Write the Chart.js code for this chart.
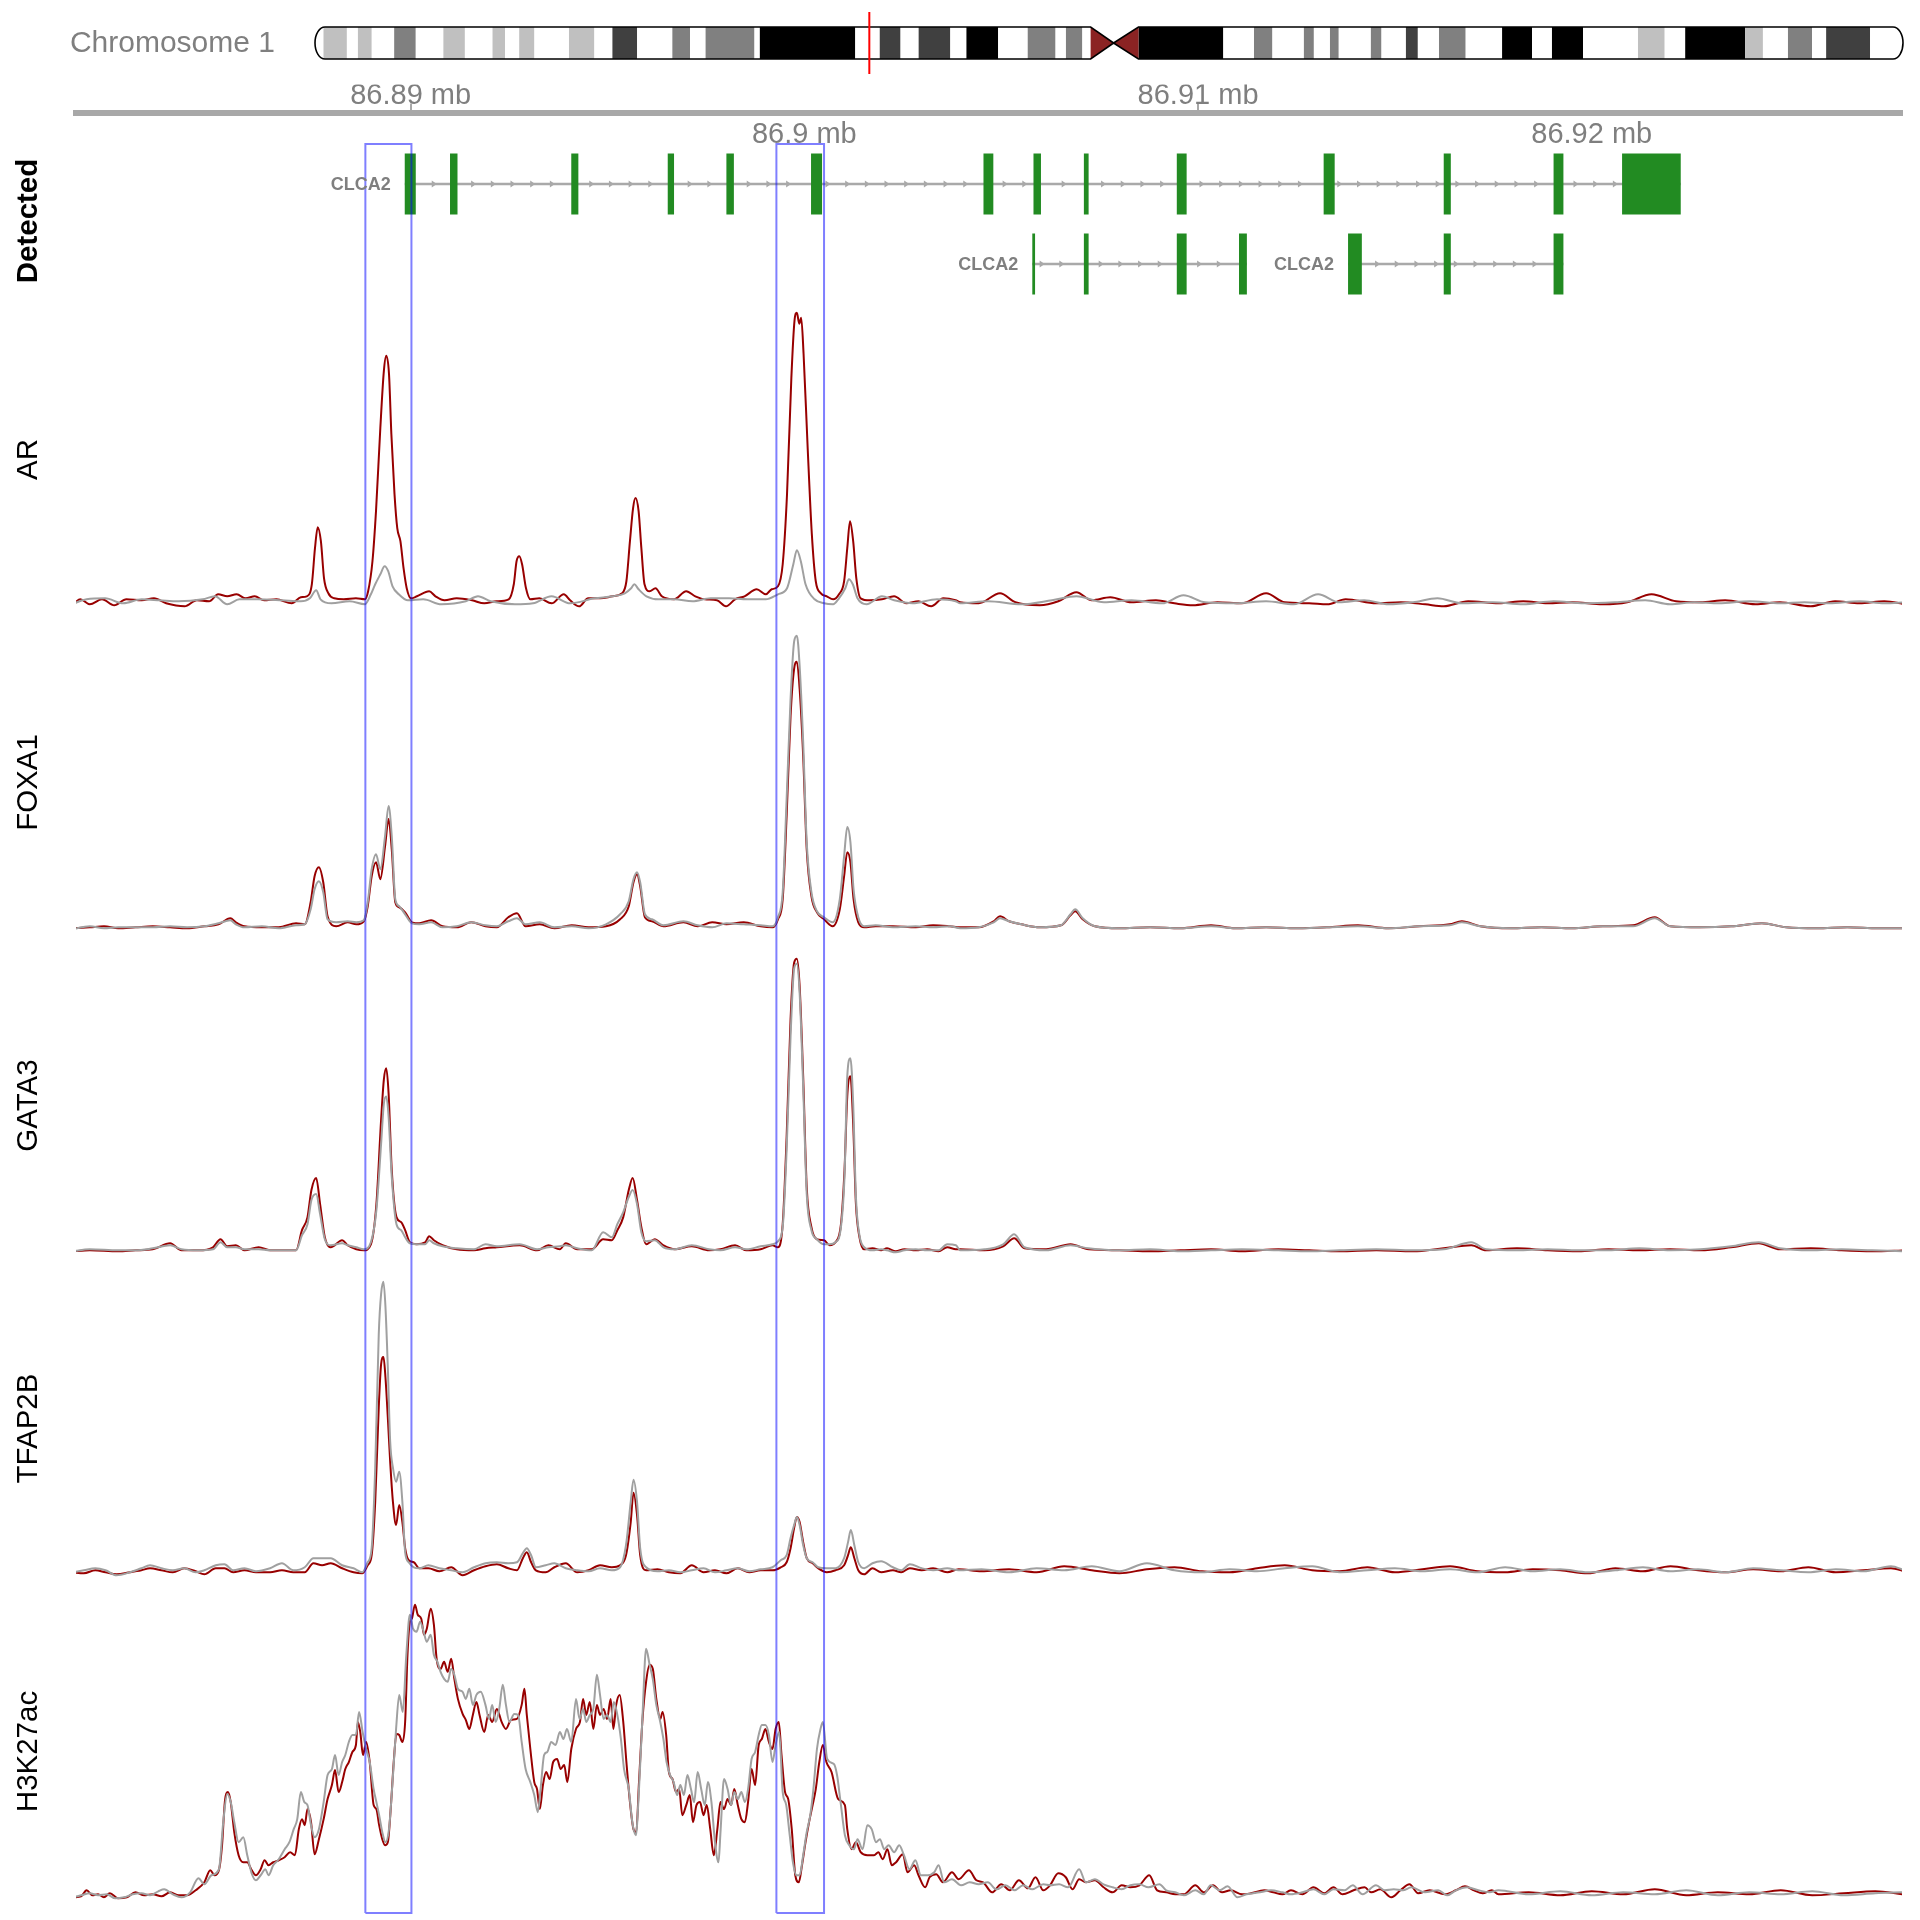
<!DOCTYPE html>
<html>
<head>
<meta charset="utf-8">
<title>CLCA2 locus tracks</title>
<script src="https://cdn.jsdelivr.net/npm/chart.js@4.4.1/dist/chart.umd.min.js"></script>
<style>
  html, body { margin: 0; padding: 0; background: #ffffff; }
  #wrap { position: relative; width: 1920px; height: 1920px; overflow: hidden; }
  canvas { position: absolute; left: 0; }
  #ideo { top: 0; }
  #tracks { top: 70px; }
</style>
</head>
<body>
<div id="wrap">
  <canvas id="ideo" width="1920" height="84"></canvas>
  <canvas id="tracks" width="1920" height="1850"></canvas>
</div>
<script>
const FONT = '"Liberation Sans", Arial, Helvetica, sans-serif';

// ---- chromosome ideogram (Mb) ----
const chromName = 'Chromosome 1';
const chromLength = 248.96;
const regionMb = 86.9047;
const bandStart = [0, 1.3, 5.0, 6.7, 8.9, 12.4, 15.8, 20.1, 23.5, 27.8, 29.8, 32.0, 34.4, 39.8, 43.8, 46.6, 50.5, 56.0, 58.8, 61.2,
  68.9, 69.7, 84.7, 88.5, 91.8, 94.6, 99.6, 102.1, 107.1, 111.7, 116.1, 117.7, 120.3, 121.6, 125.2, 129.1, 142.4, 147.2, 150.1, 155.0,
  156.6, 159.1, 160.5, 165.5, 167.2, 171.0, 172.9, 176.2, 180.4, 186.1, 190.8, 193.9, 198.8, 207.4, 211.6, 214.8, 224.2, 227.0, 230.9, 234.7,
  236.9, 243.8];
const bandStain = ['gneg','gpos25','gneg','gpos25','gneg','gpos50','gneg','gpos25','gneg','gpos25','gneg','gpos25','gneg','gpos25','gneg','gpos75','gneg','gpos50','gneg','gpos50',
  'gneg','gpos100','gneg','gpos75','gneg','gpos75','gneg','gpos100','gneg','gpos50','gneg','gpos50','gneg','acen','acen','gvar','gneg','gpos50','gneg','gpos50',
  'gneg','gpos50','gneg','gpos50','gneg','gpos75','gneg','gpos50','gneg','gpos100','gneg','gpos100','gneg','gpos25','gneg','gpos100','gpos25','gneg','gpos50','gneg',
  'gpos75','gneg'];
const stainColor = { gneg: '#ffffff', gpos25: '#c0c0c0', gpos50: '#808080', gpos75: '#404040', gpos100: '#000000', gvar: '#000000' };

// ---- genome axis (kb) ----
const viewStart = 86881.5;
const viewEnd = 86927.88;
const axisTickKb = [86890, 86900, 86910, 86920];
const axisTickLabels = ['86.89 mb', '86.9 mb', '86.91 mb', '86.92 mb'];
const highlightStart = [86888.85, 86899.29];
const highlightEnd = [86890.02, 86900.50];

// ---- gene models ----
const txName = ['CLCA2', 'CLCA2', 'CLCA2'];
const txRow = [1, 3, 3];
const txExons = [
  [[86889.85, 86890.13], [86891.00, 86891.19], [86894.08, 86894.26], [86896.53, 86896.69], [86898.02, 86898.21], [86900.17, 86900.45],
   [86904.55, 86904.80], [86905.82, 86906.01], [86907.10, 86907.22], [86909.46, 86909.71], [86913.19, 86913.47], [86916.24, 86916.42],
   [86919.03, 86919.28], [86920.77, 86922.26]],
  [[86905.79, 86905.86], [86907.10, 86907.22], [86909.46, 86909.71], [86911.04, 86911.24]],
  [[86913.81, 86914.16], [86916.24, 86916.42], [86919.03, 86919.28]]
];

// ---- signal tracks ----
const trackNames = ['AR', 'FOXA1', 'GATA3', 'TFAP2B', 'H3K27ac'];

const arTreat = [[86881.38,0],[86881.61,7],[86881.85,2],[86882.16,7],[86882.47,1],[86882.78,7],[86883.17,6],[86883.48,8],[86883.79,3],[86884.26,0],
  [86884.57,6],[86884.88,5],[86885.11,12],[86885.34,10],[86885.58,12],[86885.81,8],[86886.04,10],[86886.28,6],[86886.59,7],[86886.98,3],
  [86887.21,9],[86887.36,10],[86887.49,22],[86887.57,58],[86887.64,79],[86887.72,65],[86887.80,28],[86887.91,13],[86888.06,8],[86888.30,7],
  [86888.61,8],[86888.84,7],[86888.92,15],[86889.03,45],[86889.12,95],[86889.23,178],[86889.32,235],[86889.38,250],[86889.45,232],[86889.51,172],
  [86889.59,112],[86889.66,78],[86889.74,65],[86889.82,38],[86889.90,18],[86890.01,8],[86890.16,10],[86890.47,15],[86890.63,10],[86890.86,6],
  [86891.17,8],[86891.56,6],[86891.87,3],[86892.18,5],[86892.49,7],[86892.62,22],[86892.69,45],[86892.76,50],[86892.83,42],[86892.93,18],
  [86893.04,7],[86893.27,8],[86893.58,3],[86893.89,12],[86894.05,6],[86894.28,0],[86894.51,8],[86894.82,8],[86895.13,10],[86895.37,13],
  [86895.48,25],[86895.57,65],[86895.65,98],[86895.71,108],[86895.79,95],[86895.86,58],[86895.94,22],[86896.07,15],[86896.22,18],[86896.38,10],
  [86896.69,7],[86897.00,15],[86897.23,10],[86897.47,7],[86897.78,6],[86898.01,0],[86898.24,7],[86898.48,10],[86898.79,17],[86899.02,12],
  [86899.17,17],[86899.33,20],[86899.45,42],[86899.56,112],[86899.67,228],[86899.75,285],[86899.81,293],[86899.87,282],[86899.92,288],[86899.98,252],
  [86900.08,162],[86900.19,72],[86900.29,25],[86900.42,13],[86900.57,10],[86900.73,7],[86900.88,12],[86901.01,25],[86901.09,58],[86901.16,85],
  [86901.24,65],[86901.32,28],[86901.43,8],[86901.66,6],[86901.97,7],[86902.28,10],[86902.59,3],[86902.90,5],[86903.22,0],[86903.53,8],
  [86903.84,6],[86903.96,4],[86904.43,3],[86904.97,13],[86905.36,4],[86905.98,1],[86906.45,5],[86906.91,14],[86907.30,6],[86907.77,9],
  [86908.31,4],[86908.93,6],[86909.40,3],[86909.87,1],[86910.49,4],[86911.11,3],[86911.73,13],[86912.20,4],[86912.82,3],[86913.28,2],
  [86913.75,7],[86914.53,3],[86915.15,4],[86915.77,2],[86916.24,0],[86916.86,5],[86917.64,3],[86918.26,5],[86918.88,3],[86919.50,4],
  [86920.28,2],[86920.90,4],[86921.52,12],[86922.14,5],[86922.76,4],[86923.39,6],[86924.16,2],[86924.78,4],[86925.56,0],[86926.18,5],
  [86926.80,3],[86927.43,5],[86927.97,2]];
const arCtrl = [[86881.38,2],[86881.77,7],[86882.24,8],[86882.70,3],[86883.17,7],[86883.63,6],[86884.10,5],[86884.72,7],[86885.03,10],[86885.34,2],
  [86885.65,7],[86886.12,7],[86886.74,6],[86887.21,5],[86887.44,8],[86887.60,16],[86887.71,7],[86887.99,3],[86888.45,5],[86888.84,2],
  [86888.99,12],[86889.10,22],[86889.23,32],[86889.34,40],[86889.43,35],[86889.54,20],[86889.70,12],[86889.93,6],[86890.32,7],[86890.78,2],
  [86891.40,5],[86891.71,10],[86892.03,5],[86892.65,2],[86893.11,3],[86893.58,10],[86894.05,3],[86894.67,8],[86895.13,10],[86895.44,13],
  [86895.60,18],[86895.68,22],[86895.79,17],[86895.99,10],[86896.30,7],[86896.69,7],[86897.16,5],[86897.62,8],[86898.09,8],[86898.55,7],
  [86899.02,7],[86899.33,12],[86899.56,18],[86899.72,42],[86899.81,56],[86899.91,45],[86900.03,22],[86900.26,7],[86900.50,3],[86900.73,2],
  [86900.88,8],[86901.04,18],[86901.13,27],[86901.23,22],[86901.35,8],[86901.58,2],[86901.97,10],[86902.28,6],[86902.75,3],[86903.37,7],
  [86903.84,5],[86903.96,3],[86904.66,5],[86905.51,2],[86906.29,6],[86906.91,10],[86907.61,4],[86908.31,6],[86909.09,3],[86909.63,11],
  [86910.18,4],[86910.95,3],[86911.73,5],[86912.43,2],[86913.05,12],[86913.59,4],[86914.22,6],[86914.84,2],[86915.46,4],[86916.08,8],
  [86916.70,3],[86917.48,4],[86918.26,2],[86919.03,5],[86919.81,3],[86920.59,4],[86921.36,6],[86921.99,2],[86922.61,4],[86923.23,3],
  [86924.01,5],[86924.78,3],[86925.40,4],[86926.03,3],[86926.80,5],[86927.43,3],[86927.97,4]];

const foxa1Pos = [86881.41,86881.85,86882.21,86882.57,86883.01,86883.45,86883.89,86884.32,86884.76,86885.12,
  86885.42,86885.56,86885.78,86886.22,86886.65,86887.09,86887.31,86887.46,86887.56,86887.67,
  86887.78,86887.89,86888.11,86888.40,86888.62,86888.81,86888.91,86889.01,86889.12,86889.23,
  86889.35,86889.44,86889.52,86889.61,86889.71,86889.86,86890.03,86890.22,86890.52,86890.81,
  86891.17,86891.54,86891.90,86892.19,86892.48,86892.70,86892.92,86893.28,86893.65,86894.09,
  86894.52,86894.96,86895.32,86895.54,86895.66,86895.75,86895.83,86895.95,86896.13,86896.42,
  86896.93,86897.29,86897.66,86898.02,86898.46,86898.89,86899.19,86899.33,86899.45,86899.55,
  86899.65,86899.74,86899.81,86899.88,86899.97,86900.06,86900.18,86900.32,86900.50,86900.72,
  86900.90,86901.01,86901.09,86901.17,86901.25,86901.37,86901.52,86901.81,86902.25,86902.83,
  86903.27,86903.70,
  86903.96,86904.43,86904.81,86904.97,86905.20,86905.51,86905.98,86906.52,86906.76,86906.88,
  86907.07,86907.38,86908.00,86908.78,86909.55,86910.33,86910.95,86911.73,86912.51,86913.28,
  86914.06,86914.84,86915.62,86916.39,86916.70,86917.17,86917.95,86918.72,86919.50,86920.28,
  86921.05,86921.60,86921.99,86922.76,86923.54,86924.32,86924.94,86925.72,86926.49,86927.27,
  86927.97];
const foxa1Treat = [1,2,3,1,2,3,2,1,3,5, 11,7,3,2,2,6,5,27,53,62, 47,13,3,7,5,8,23,53,67,50,
  83,110,80,27,22,17,7,6,9,3, 2,7,3,2,12,16,3,5,1,4, 2,3,10,23,47,55,43,12,8,3,
  7,3,7,5,7,3,2,10,30,113, 213,260,267,240,173,80,33,17,10,3, 20,53,77,67,30,7,2,3,3,2,
  4,3,
  2,2,8,13,8,5,2,4,14,18, 10,3,1,2,1,4,1,2,1,2, 4,1,3,5,8,3,1,2,1,3, 4,12,3,2,3,6,2,1,2,1, 1];
const foxa1Ctrl = [0,3,1,2,2,2,3,2,3,6, 9,5,2,3,1,4,5,20,40,48, 37,10,7,8,7,9,27,60,75,60,
  93,123,93,30,23,15,6,5,7,2, 3,7,4,3,8,11,5,7,2,3, 1,5,15,28,50,57,47,15,10,4,
  8,4,2,6,5,4,3,12,37,130, 230,287,293,263,187,87,37,18,12,7, 30,73,102,87,40,12,3,4,2,3,
  2,3,
  1,2,7,11,8,5,2,4,15,20, 11,3,1,2,1,3,1,2,1,2, 3,1,3,4,7,3,1,2,1,3, 3,11,3,2,3,6,2,1,2,1, 1];

const gata3Pos = [86881.41,86881.85,86882.57,86883.01,86883.45,86883.89,86884.18,86884.61,86884.98,86885.17,
  86885.34,86885.56,86885.78,86886.14,86886.43,86886.87,86887.09,86887.24,86887.38,86887.48,
  86887.60,86887.70,86887.82,86887.97,86888.26,86888.40,86888.62,86888.81,86888.99,86889.13,
  86889.25,86889.32,86889.38,86889.44,86889.52,86889.64,86889.76,86889.86,86889.98,86890.15,
  86890.37,86890.47,86890.59,86890.81,86891.17,86891.61,86891.90,86892.19,86892.77,86893.21,
  86893.50,86893.79,86893.94,86894.23,86894.60,86894.89,86895.11,86895.25,86895.40,86895.54,
  86895.64,86895.75,86895.86,86895.98,86896.20,86896.42,86896.71,86897.14,86897.58,86897.87,
  86898.24,86898.53,86898.89,86899.19,86899.33,86899.45,86899.55,86899.65,86899.74,86899.81,
  86899.88,86899.97,86900.06,86900.18,86900.32,86900.50,86900.64,86900.79,86900.93,86901.02,
  86901.09,86901.17,86901.24,86901.31,86901.40,86901.52,86901.73,86901.95,86902.10,86902.32,
  86902.54,86902.83,86903.12,86903.41,86903.63,86903.85,
  86903.96,86904.58,86905.05,86905.33,86905.59,86906.14,86906.76,86907.22,86908.00,86908.78,
  86909.55,86910.33,86911.11,86912.04,86912.82,86913.59,86914.53,86915.46,86916.24,86916.94,
  86917.32,86918.10,86918.88,86919.66,86920.43,86921.21,86921.99,86922.76,86923.54,86924.24,
  86924.78,86925.56,86926.34,86927.12,86927.97];
const gata3Treat = [1,2,1,2,3,9,2,2,5,13, 6,7,2,5,2,2,2,22,35,62, 74,48,15,5,12,7,3,2,8,48,
  132,172,183,158,82,35,30,22,10,8, 10,16,12,7,3,2,4,5,7,2, 7,3,9,3,3,13,12,22,35,62,
  74,52,25,8,13,7,3,6,2,3, 7,2,3,7,5,28,115,232,288,292, 265,175,65,25,13,12,7,10,28,82,
  155,175,128,48,15,3,4,2,4,1, 3,2,3,1,5,3,
  3,2,6,14,4,3,8,3,2,1, 2,3,1,3,2,1,2,1,4,7, 2,4,2,1,3,2,3,2,5,9, 3,4,2,1,2];
const gata3Ctrl = [1,3,2,2,4,7,3,2,3,10, 5,5,3,3,2,2,2,17,28,52, 58,38,13,7,9,7,5,3,10,42,
  108,148,155,135,75,28,22,15,9,8, 8,12,9,6,4,3,8,6,8,3, 5,6,7,4,2,20,15,28,40,55,
  62,48,20,11,12,5,3,7,3,2, 5,3,6,8,11,25,102,215,282,287, 258,165,58,22,13,8,8,10,25,75,
  175,193,148,55,17,5,2,3,2,0, 2,3,2,2,8,7,
  2,3,8,18,5,2,7,4,2,3, 1,2,3,2,1,2,3,2,3,10, 3,2,3,2,2,4,2,3,6,10, 4,2,3,2,1];

const tfap2bPos = [86881.41,86881.70,86881.99,86882.25,86882.53,86882.87,86883.16,86883.38,86883.67,86883.96,
  86884.25,86884.54,86884.76,86885.05,86885.27,86885.49,86885.78,86886.07,86886.43,86886.73,
  86887.02,86887.31,86887.53,86887.75,86887.97,86888.26,86888.55,86888.77,86888.91,86889.01,
  86889.10,86889.19,86889.25,86889.31,86889.36,86889.42,86889.48,86889.55,86889.63,86889.71,
  86889.79,86889.86,86889.95,86890.08,86890.22,86890.45,86890.73,86891.03,86891.32,86891.61,
  86891.90,86892.19,86892.48,86892.70,86892.85,86892.95,86893.06,86893.18,86893.43,86893.65,
  86893.94,86894.23,86894.52,86894.81,86895.11,86895.32,86895.47,86895.59,86895.66,86895.75,
  86895.83,86895.98,86896.27,86896.56,86896.85,86897.14,86897.44,86897.73,86898.02,86898.31,
  86898.60,86898.89,86899.19,86899.40,86899.55,86899.65,86899.74,86899.81,86899.88,86899.97,
  86900.06,86900.21,86900.35,86900.57,86900.79,86901.01,86901.11,86901.18,86901.27,86901.37,
  86901.52,86901.73,86901.95,86902.25,86902.46,86902.68,86902.98,86903.27,86903.63,86903.92,
  86904.5,86905.2,86905.9,86906.6,86907.3,86908.0,86908.7,86909.4,86910.1,86910.8,
  86911.5,86912.2,86912.9,86913.6,86914.3,86915.0,86915.7,86916.4,86917.1,86917.8,
  86918.5,86919.2,86919.9,86920.6,86921.3,86922.0,86922.7,86923.4,86924.1,86924.8,
  86925.5,86926.2,86926.9,86927.6,86927.95];
const tfap2bTreat = [3,2,5,3,1,3,5,7,5,3, 7,4,1,7,7,3,5,3,3,5, 3,3,12,10,12,7,3,2,10,20,
  73,167,210,217,197,157,113,73,50,70, 53,27,15,13,7,7,4,8,0,5, 9,11,7,5,17,23,13,5,3,8,
  12,3,5,10,8,10,20,53,82,60, 20,5,6,3,2,10,3,5,2,7, 3,5,5,8,13,27,47,58,53,33,
  17,12,7,3,5,10,20,28,17,5, 1,7,3,5,3,7,5,7,3,6,
  4,6,3,9,5,2,6,8,4,3, 7,10,5,4,8,3,6,9,4,3, 6,5,2,7,4,9,5,3,6,4, 8,3,5,7,4];
const tfap2bCtrl = [3,5,7,5,0,3,7,10,7,5, 7,3,5,10,11,5,7,4,7,12, 5,8,17,17,17,10,7,3,13,27,
  107,240,280,292,267,207,133,107,93,103, 73,23,13,8,7,10,7,5,3,8, 12,13,12,13,22,27,20,8,10,12,
  7,5,4,7,5,8,30,73,95,73, 27,8,4,5,3,5,7,3,5,7, 4,6,8,15,20,37,50,58,50,30,
  17,13,8,7,7,17,33,45,30,13, 7,12,14,8,5,11,7,5,7,5,
  6,3,7,5,9,4,12,5,3,6, 4,7,9,3,5,7,4,6,3,8, 4,6,3,5,8,4,6,3,7,5, 3,6,4,9,5];

const h3k27acTreat = [[86881.41,1],[86881.63,2],[86881.77,8],[86881.92,3],[86882.06,4],[86882.21,1],[86882.36,5],[86882.57,0],[86882.79,1],[86883.01,6],
  [86883.23,3],[86883.45,4],[86883.67,2],[86883.89,6],[86884.11,3],[86884.32,3],[86884.54,8],[86884.76,16],[86884.91,28],[86885.02,23],
  [86885.13,28],[86885.21,53],[86885.28,96],[86885.36,106],[86885.43,96],[86885.52,66],[86885.63,43],[86885.75,36],[86885.85,36],[86885.95,29],
  [86886.07,23],[86886.19,29],[86886.29,38],[86886.39,33],[86886.51,36],[86886.65,38],[86886.80,41],[86886.94,46],[86887.06,43],[86887.16,69],
  [86887.24,79],[86887.31,73],[86887.38,89],[86887.47,76],[86887.56,44],[86887.67,59],[86887.79,79],[86887.89,99],[86888.00,113],[86888.08,128],
  [86888.17,106],[86888.26,116],[86888.34,129],[86888.43,136],[86888.52,146],[86888.61,153],[86888.66,176],[86888.72,166],[86888.79,143],[86888.87,156],
  [86888.96,136],[86889.06,93],[86889.13,89],[86889.20,73],[86889.28,59],[86889.35,53],[86889.42,56],[86889.50,93],[86889.57,136],[86889.64,164],
  [86889.71,163],[86889.79,156],[86889.86,176],[86889.92,243],[86889.98,276],[86890.03,279],[86890.11,293],[86890.18,283],[86890.27,279],[86890.34,263],
  [86890.41,269],[86890.51,289],[86890.59,273],[86890.66,239],[86890.76,229],[86890.85,236],[86890.94,226],[86891.03,239],[86891.11,219],[86891.20,199],
  [86891.32,184],[86891.40,178],[86891.49,169],[86891.58,183],[86891.67,196],[86891.75,183],[86891.87,166],[86891.97,183],[86892.07,176],[86892.19,189],
  [86892.31,176],[86892.42,169],[86892.55,178],[86892.70,179],[86892.82,193],[86892.89,209],[86892.95,183],[86893.04,149],[86893.14,116],[86893.21,109],
  [86893.28,89],[86893.36,113],[86893.44,126],[86893.53,119],[86893.62,136],[86893.72,139],[86893.81,129],[86893.90,133],[86893.98,116],[86894.08,149],
  [86894.20,169],[86894.30,176],[86894.38,199],[86894.46,183],[86894.55,196],[86894.64,169],[86894.73,193],[86894.81,183],[86894.90,189],[86894.99,179],
  [86895.08,199],[86895.15,169],[86895.22,193],[86895.31,203],[86895.40,176],[86895.48,136],[86895.57,96],[86895.66,69],[86895.73,66],[86895.80,116],
  [86895.89,179],[86895.98,216],[86896.07,233],[86896.15,229],[86896.24,199],[86896.34,179],[86896.40,186],[86896.49,163],[86896.56,126],[86896.65,119],
  [86896.74,106],[86896.82,109],[86896.90,83],[86897.00,93],[86897.09,103],[86897.17,76],[86897.26,93],[86897.35,96],[86897.44,83],[86897.52,93],
  [86897.61,69],[86897.70,43],[86897.79,69],[86897.87,96],[86897.96,89],[86898.05,99],[86898.14,93],[86898.22,109],[86898.31,93],[86898.40,79],
  [86898.49,76],[86898.57,96],[86898.66,129],[86898.75,113],[86898.84,153],[86898.92,159],[86899.01,169],[86899.10,156],[86899.19,149],[86899.27,169],
  [86899.35,176],[86899.42,143],[86899.51,106],[86899.59,99],[86899.68,69],[86899.77,23],[86899.86,16],[86899.94,33],[86900.03,56],[86900.12,76],
  [86900.21,93],[86900.29,109],[86900.38,136],[86900.47,153],[86900.56,136],[86900.69,126],[86900.86,99],[86901.03,93],[86901.09,69],[86901.20,49],
  [86901.31,56],[86901.43,46],[86901.60,43],[86901.77,43],[86901.88,46],[86901.99,39],[86902.11,49],[86902.22,33],[86902.33,36],[86902.50,44],
  [86902.62,26],[86902.79,33],[86902.90,23],[86903.07,11],[86903.18,21],[86903.35,24],[86903.52,16],[86903.75,26],[86903.92,19],[86904.18,28],
  [86904.37,18],[86904.54,16],[86904.77,6],[86905.00,14],[86905.22,8],[86905.45,18],[86905.68,10],[86905.87,21],[86906.07,8],[86906.24,13],
  [86906.45,25],[86906.64,21],[86906.81,9],[86906.98,19],[86907.15,16],[86907.38,18],[86907.60,11],[86907.83,6],[86908.06,13],[86908.28,11],
  [86908.51,13],[86908.76,23],[86908.96,8],[86909.19,6],[86909.42,4],[86909.64,4],[86909.93,13],[86910.15,6],[86910.38,13],[86910.61,6],
  [86910.83,8],[86911.12,4],[86911.34,5],[86911.68,8],[86911.91,6],[86912.14,4],[86912.36,8],[86912.65,4],[86912.93,11],[86913.21,5],
  [86913.44,11],[86913.67,4],[86913.95,8],[86914.23,11],[86914.40,6],[86914.63,9],[86914.91,1],[86915.14,8],[86915.37,14],[86915.59,5],
  [86915.88,8],[86916.27,4],[86916.55,8],[86916.78,12],[86917.01,8],[86917.23,5],[86917.46,8],[86917.63,4],[86918.4,6],[86919.2,3],
  [86920.0,7],[86920.8,4],[86921.6,9],[86922.4,3],[86923.2,6],[86924.0,4],[86924.8,8],[86925.6,3],[86926.4,5],[86927.2,7],
  [86927.9,4]];
const h3k27acCtrl = [[86881.41,1],[86881.63,3],[86881.85,5],[86882.06,3],[86882.28,4],[86882.50,0],[86882.72,1],[86882.94,4],[86883.16,5],[86883.38,3],
  [86883.59,7],[86883.74,9],[86883.96,4],[86884.18,1],[86884.40,6],[86884.61,20],[86884.76,14],[86884.94,23],[86885.13,29],[86885.24,76],
  [86885.34,104],[86885.43,96],[86885.52,76],[86885.63,56],[86885.75,61],[86885.85,43],[86885.97,24],[86886.07,18],[86886.19,23],[86886.31,29],
  [86886.39,23],[86886.51,33],[86886.65,39],[86886.80,49],[86886.92,56],[86887.03,69],[86887.12,79],[86887.21,106],[86887.30,96],[86887.38,93],
  [86887.47,73],[86887.56,61],[86887.67,69],[86887.79,96],[86887.89,123],[86888.00,129],[86888.08,143],[86888.17,123],[86888.26,136],[86888.34,143],
  [86888.43,156],[86888.52,163],[86888.61,163],[86888.69,186],[86888.78,166],[86888.87,149],[86888.96,136],[86889.06,109],[86889.13,96],[86889.20,83],
  [86889.28,66],[86889.36,56],[86889.45,69],[86889.54,116],[86889.63,169],[86889.71,203],[86889.80,186],[86889.89,243],[86889.98,283],[86890.06,269],
  [86890.15,266],[86890.24,276],[86890.33,266],[86890.41,256],[86890.51,263],[86890.59,243],[86890.68,236],[86890.76,226],[86890.85,219],[86890.94,216],
  [86891.03,229],[86891.11,223],[86891.20,209],[86891.32,206],[86891.40,199],[86891.49,209],[86891.58,193],[86891.67,203],[86891.78,206],[86891.90,193],
  [86891.99,179],[86892.07,193],[86892.16,176],[86892.25,189],[86892.34,213],[86892.42,193],[86892.51,176],[86892.63,184],[86892.73,183],[86892.82,156],
  [86892.92,129],[86893.04,116],[86893.14,103],[86893.23,86],[86893.30,109],[86893.39,143],[86893.47,146],[86893.57,156],[86893.68,153],[86893.79,166],
  [86893.88,159],[86893.97,169],[86894.08,156],[86894.20,199],[86894.29,179],[86894.38,189],[86894.46,176],[86894.55,183],[86894.64,189],[86894.73,223],
  [86894.81,203],[86894.90,179],[86894.99,183],[86895.08,176],[86895.16,196],[86895.25,183],[86895.34,159],[86895.42,129],[86895.54,109],[86895.63,76],
  [86895.72,63],[86895.80,109],[86895.89,183],[86895.98,249],[86896.07,233],[86896.15,219],[86896.24,193],[86896.34,176],[86896.42,159],[86896.50,136],
  [86896.59,123],[86896.68,116],[86896.77,103],[86896.85,113],[86896.94,103],[86897.03,123],[86897.12,109],[86897.20,96],[86897.29,126],[86897.38,109],
  [86897.47,93],[86897.55,116],[86897.64,96],[86897.73,56],[86897.82,36],[86897.87,66],[86897.96,119],[86898.05,109],[86898.14,93],[86898.22,106],
  [86898.31,99],[86898.40,106],[86898.49,96],[86898.57,109],[86898.66,139],[86898.75,146],[86898.84,163],[86898.92,173],[86899.01,173],[86899.10,163],
  [86899.19,136],[86899.27,153],[86899.36,166],[86899.45,106],[86899.54,93],[86899.62,66],[86899.71,36],[86899.80,23],[86899.88,23],[86899.97,43],
  [86900.06,66],[86900.15,83],[86900.23,109],[86900.32,149],[86900.41,169],[86900.47,176],[86900.58,139],[86900.75,134],[86900.83,123],[86900.92,96],
  [86901.03,63],[86901.14,53],[86901.26,49],[86901.35,59],[86901.48,49],[86901.60,73],[86901.71,69],[86901.82,56],[86901.92,59],[86902.03,49],
  [86902.14,53],[86902.28,46],[86902.41,53],[86902.53,43],[86902.67,29],[86902.82,38],[86902.96,23],[86903.13,23],[86903.30,26],[86903.41,33],
  [86903.55,16],[86903.75,19],[86903.98,13],[86904.20,16],[86904.43,14],[86904.66,16],[86904.88,9],[86905.11,13],[86905.34,8],[86905.56,13],
  [86905.79,9],[86906.07,14],[86906.24,13],[86906.47,14],[86906.70,11],[86906.98,29],[86907.15,16],[86907.38,19],[86907.60,14],[86907.83,11],
  [86908.06,9],[86908.28,13],[86908.51,14],[86908.74,11],[86909.02,14],[86909.19,8],[86909.42,6],[86909.64,3],[86909.93,8],[86910.15,4],
  [86910.32,13],[86910.55,8],[86910.75,12],[86911.00,1],[86911.23,4],[86911.57,6],[86911.85,8],[86912.14,6],[86912.36,4],[86912.65,6],
  [86912.93,9],[86913.21,4],[86913.44,9],[86913.72,8],[86913.93,13],[86914.18,4],[86914.52,13],[86914.74,8],[86914.97,9],[86915.20,8],
  [86915.42,11],[86915.76,6],[86916.10,8],[86916.33,3],[86916.55,8],[86916.84,11],[86917.12,8],[86917.40,6],[86917.63,8],[86918.4,4],
  [86919.2,7],[86920.0,3],[86920.8,6],[86921.6,4],[86922.4,8],[86923.2,3],[86924.0,6],[86924.8,4],[86925.6,7],[86926.4,3],
  [86927.2,5],[86927.9,6]];

// ---- helpers ----
function zip(pos, vals, name) {
  if (pos.length !== vals.length) throw new Error(name + ': ' + pos.length + ' positions vs ' + vals.length + ' values');
  return pos.map((p, i) => ({ x: p, y: vals[i] }));
}
const fromPairs = pairs => pairs.map(p => ({ x: p[0], y: p[1] }));

const trackSeries = [
  { id: 'yAR',   treat: fromPairs(arTreat), ctrl: fromPairs(arCtrl) },
  { id: 'yFOXA1', treat: zip(foxa1Pos, foxa1Treat, 'FOXA1 treat'), ctrl: zip(foxa1Pos, foxa1Ctrl, 'FOXA1 ctrl') },
  { id: 'yGATA3', treat: zip(gata3Pos, gata3Treat, 'GATA3 treat'), ctrl: zip(gata3Pos, gata3Ctrl, 'GATA3 ctrl') },
  { id: 'yTFAP2B', treat: zip(tfap2bPos, tfap2bTreat, 'TFAP2B treat'), ctrl: zip(tfap2bPos, tfap2bCtrl, 'TFAP2B ctrl') },
  { id: 'yH3K27ac', treat: fromPairs(h3k27acTreat), ctrl: fromPairs(h3k27acCtrl) }
];

// ---- ideogram chart ----
const bandEnd = bandStart.map((s, i) => i < bandStart.length - 1 ? bandStart[i + 1] : chromLength);
const cenStart = bandStart[bandStain.indexOf('acen')];
const cenEnd = bandEnd[bandStain.lastIndexOf('acen')];
const cenMid = bandEnd[bandStain.indexOf('acen')];
const BAND_H = 32;

function chromPath(ctx, x, yc) {
  const top = yc - BAND_H / 2, bot = yc + BAND_H / 2, r = 10;
  const x0 = x.getPixelForValue(0), x1 = x.getPixelForValue(chromLength);
  const c0 = x.getPixelForValue(cenStart), cm = x.getPixelForValue(cenMid), c1 = x.getPixelForValue(cenEnd);
  ctx.beginPath();
  ctx.moveTo(x0 + r, top);
  ctx.lineTo(c0, top); ctx.lineTo(cm, yc); ctx.lineTo(c1, top);
  ctx.lineTo(x1 - r, top);
  ctx.ellipse(x1 - r, yc, r, BAND_H / 2, 0, -Math.PI / 2, Math.PI / 2);
  ctx.lineTo(c1, bot); ctx.lineTo(cm, yc); ctx.lineTo(c0, bot);
  ctx.lineTo(x0 + r, bot);
  ctx.ellipse(x0 + r, yc, r, BAND_H / 2, 0, Math.PI / 2, Math.PI * 1.5);
  ctx.closePath();
}

const ideoDecor = {
  id: 'ideoDecor',
  beforeDatasetsDraw(chart) {
    const { ctx, scales: { x, y } } = chart;
    ctx.save();
    chromPath(ctx, x, y.getPixelForValue(0.5));
    ctx.clip();
  },
  afterDatasetsDraw(chart) {
    const { ctx, scales: { x, y }, chartArea } = chart;
    ctx.restore();
    const yc = y.getPixelForValue(0.5);
    const top = yc - BAND_H / 2, bot = yc + BAND_H / 2;
    const c0 = x.getPixelForValue(cenStart), cm = x.getPixelForValue(cenMid), c1 = x.getPixelForValue(cenEnd);
    ctx.save();
    ctx.fillStyle = '#8b2323';
    ctx.beginPath(); ctx.moveTo(c0, top); ctx.lineTo(cm, yc); ctx.lineTo(c0, bot); ctx.closePath(); ctx.fill();
    ctx.beginPath(); ctx.moveTo(c1, top); ctx.lineTo(cm, yc); ctx.lineTo(c1, bot); ctx.closePath(); ctx.fill();
    ctx.strokeStyle = '#000000';
    ctx.lineWidth = 1.6;
    chromPath(ctx, x, yc);
    ctx.stroke();
    // current region marker
    const rx = x.getPixelForValue(regionMb);
    ctx.strokeStyle = '#ff0000';
    ctx.lineWidth = 2;
    ctx.beginPath(); ctx.moveTo(rx, yc - 31); ctx.lineTo(rx, yc + 31); ctx.stroke();
    // chromosome name
    ctx.font = '30px ' + FONT;
    ctx.fillStyle = '#7f7f7f';
    ctx.textAlign = 'right';
    ctx.textBaseline = 'middle';
    ctx.fillText(chromName, chartArea.left - 40, yc + 1);
    ctx.restore();
  }
};

const ideoDatasets = ['gneg', 'gpos25', 'gpos50', 'gpos75', 'gpos100', 'gvar'].map(st => {
  const pts = [];
  bandStart.forEach((s, i) => {
    if (bandStain[i] === st) pts.push({ x: s, y: 0.5 }, { x: bandEnd[i], y: 0.5 }, { x: bandEnd[i] + 1e-6, y: null });
  });
  return { data: pts, borderColor: stainColor[st], borderWidth: BAND_H, borderCapStyle: 'butt', pointRadius: 0, spanGaps: false };
});

new Chart(document.getElementById('ideo'), {
  type: 'line',
  data: { datasets: ideoDatasets },
  options: {
    responsive: false,
    animation: false,
    events: [],
    layout: { padding: { top: 20, bottom: 18, left: 315, right: 17 } },
    plugins: { legend: { display: false }, tooltip: { enabled: false } },
    scales: {
      x: { type: 'linear', min: 0, max: chromLength, display: false },
      y: { type: 'linear', min: 0, max: 1, display: false }
    }
  },
  plugins: [ideoDecor]
});

// ---- main track chart ----
const geneDecor = {
  id: 'geneDecor',
  beforeDatasetsDraw(chart) {
    const { ctx, scales: { x, yGene } } = chart;
    ctx.save();
    ctx.fillStyle = '#a9a9a9';
    txExons.forEach((exons, t) => {
      const y = yGene.getPixelForValue(txRow[t]);
      const s = exons[0][0], e = exons[exons.length - 1][1];
      for (let p = s + 0.25; p < e - 0.05; p += 0.5) {
        if (exons.some(ex => p > ex[0] - 0.12 && p < ex[1] + 0.12)) continue;
        const px = x.getPixelForValue(p);
        ctx.beginPath();
        ctx.moveTo(px - 2.5, y - 3.5); ctx.lineTo(px + 2.5, y); ctx.lineTo(px - 2.5, y + 3.5);
        ctx.closePath(); ctx.fill();
      }
    });
    ctx.restore();
  },
  afterDatasetsDraw(chart) {
    const { ctx, scales: { x, yGene } } = chart;
    ctx.save();
    ctx.font = 'bold 18px ' + FONT;
    ctx.fillStyle = '#7f7f7f';
    ctx.textAlign = 'right';
    ctx.textBaseline = 'middle';
    txExons.forEach((exons, t) => {
      ctx.fillText(txName[t], x.getPixelForValue(exons[0][0]) - 14, yGene.getPixelForValue(txRow[t]) + 1);
    });
    ctx.restore();
  }
};

const datasets = [];
// highlight boxes
highlightStart.forEach((s, i) => {
  const e = highlightEnd[i];
  datasets.push({
    data: [{ x: s, y: 0 }, { x: s, y: 1 }, { x: e, y: 1 }, { x: e, y: 0 }, { x: s, y: 0 }],
    xAxisID: 'x', yAxisID: 'yAll', borderColor: 'rgba(0,0,255,0.5)', borderWidth: 2,
    pointRadius: 0, clip: false, order: 0, borderJoinStyle: 'miter'
  });
});
// signal lines
trackSeries.forEach(t => {
  datasets.push({ data: t.ctrl, xAxisID: 'x', yAxisID: t.id, borderColor: '#a0a0a0', borderWidth: 2,
    pointRadius: 0, cubicInterpolationMode: 'monotone', order: 1 });
  datasets.push({ data: t.treat, xAxisID: 'x', yAxisID: t.id, borderColor: '#980000', borderWidth: 2,
    pointRadius: 0, cubicInterpolationMode: 'monotone', order: 2 });
});
// gene models
txExons.forEach((exons, t) => {
  const row = txRow[t];
  datasets.push({
    data: [{ x: exons[0][0], y: row }, { x: exons[exons.length - 1][1], y: row }],
    xAxisID: 'x', yAxisID: 'yGene', borderColor: '#a9a9a9', borderWidth: 2.5, pointRadius: 0, order: 4
  });
  const pts = [];
  exons.forEach(ex => { pts.push({ x: ex[0], y: row }, { x: ex[1], y: row }, { x: ex[1] + 0.001, y: null }); });
  datasets.push({
    data: pts, xAxisID: 'x', yAxisID: 'yGene', borderColor: '#228b22', borderWidth: 61,
    borderCapStyle: 'butt', pointRadius: 0, spanGaps: false, order: 3
  });
});

const tickLabel = v => { const i = axisTickKb.indexOf(v); return i >= 0 ? axisTickLabels[i] : ''; };

function trackAxis(title, weight, ymin, ymax, extra) {
  return Object.assign({
    type: 'linear', position: 'left', stack: 'tracks', stackWeight: weight,
    min: ymin, max: ymax,
    grid: { display: false, drawTicks: false, tickLength: 0 },
    border: { display: false },
    ticks: { display: false },
    title: { display: true, text: title, color: '#000000', font: { family: FONT, size: 29.5 }, padding: { top: 11, bottom: 29.6 } },
    afterFit: s => { s.width = 76; }
  }, extra || {});
}

const scales = {
  x: {
    type: 'linear', position: 'top', min: viewStart, max: viewEnd, weight: 1,
    afterBuildTicks: s => { s.ticks = axisTickKb.filter((v, i) => i % 2 === 0).map(v => ({ value: v })); },
    afterFit: s => { s.height = 28.2; },
    ticks: { callback: tickLabel, color: '#7f7f7f', font: { family: FONT, size: 29, lineHeight: 0.6 }, padding: -1.5, maxRotation: 0, autoSkip: false },
    grid: { drawOnChartArea: false, color: '#a8a8a8', lineWidth: 2, tickLength: 9 },
    border: { display: true, color: '#a8a8a8', width: 6 }
  },
  xLow: {
    type: 'linear', position: 'top', min: viewStart, max: viewEnd, weight: 0,
    afterBuildTicks: s => { s.ticks = axisTickKb.filter((v, i) => i % 2 === 1).map(v => ({ value: v })); },
    afterFit: s => { s.height = 31.4; },
    ticks: { callback: tickLabel, color: '#7f7f7f', font: { family: FONT, size: 29, lineHeight: 0.6 }, padding: 0.8, maxRotation: 0, autoSkip: false },
    grid: { display: false, drawTicks: false, tickLength: 0 },
    border: { display: false }
  }
};
// stacked track axes: defined bottom-up so the last one sits on top
const trackWeight = 323, geneWeight = 154;
for (let i = trackSeries.length - 1; i >= 0; i--) {
  const t = trackSeries[i];
  const m = Math.max(...t.treat.map(p => p.y), ...t.ctrl.map(p => p.y));
  scales[t.id] = trackAxis(trackNames[i], trackWeight, -0.05 * m, 1.05 * m);
}
scales.yGene = trackAxis('Detected', geneWeight, 0, 3.85, { reverse: true });
scales.yGene.title.font = { family: FONT, size: 29.5, weight: 'bold' };
scales.yAll = { type: 'linear', position: 'left', min: 0, max: 1, display: false };

new Chart(document.getElementById('tracks'), {
  type: 'line',
  data: { datasets },
  options: {
    responsive: false,
    animation: false,
    events: [],
    layout: { padding: { top: 14.4, bottom: 7, left: 0, right: 18 } },
    plugins: { legend: { display: false }, tooltip: { enabled: false } },
    elements: { point: { radius: 0 } },
    scales
  },
  plugins: [geneDecor]
});
</script>
</body>
</html>
